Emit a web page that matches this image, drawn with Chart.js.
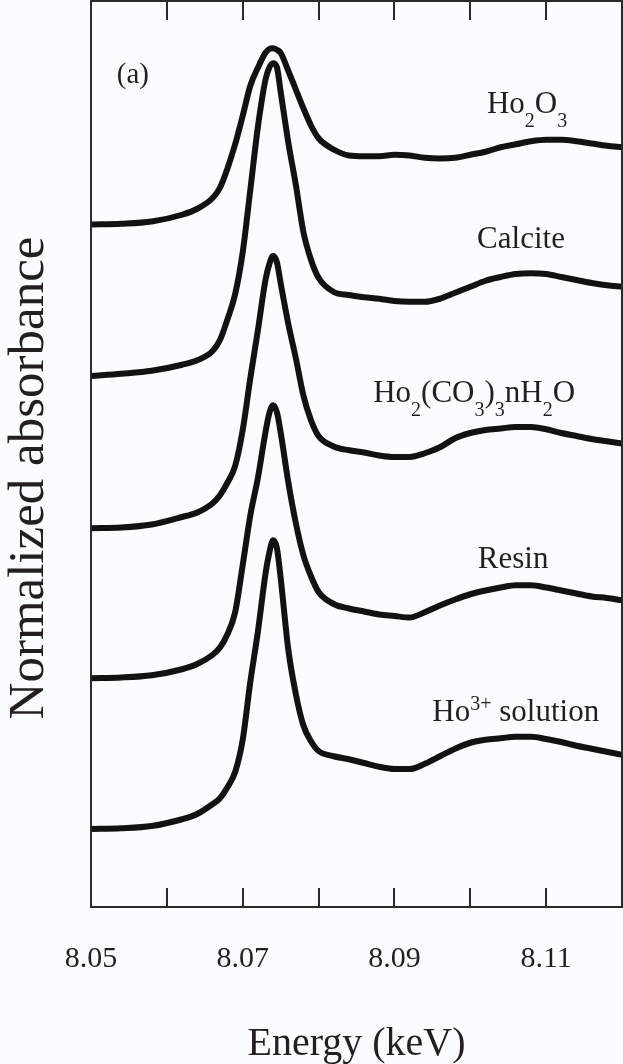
<!DOCTYPE html>
<html>
<head>
<meta charset="utf-8">
<title>Ho L3-edge XANES</title>
<script src="https://cdn.jsdelivr.net/npm/chart.js@4.4.1/dist/chart.umd.min.js"></script>
<style>
  html, body { margin: 0; padding: 0; background: #fbfcfe; }
  #wrap { width: 623px; height: 1064px; }
</style>
</head>
<body>
<div id="wrap"><canvas id="xanes" width="623" height="1064"></canvas></div>
<script>
// Photon energy (keV) of the sampled points
const energy = [8.050, 8.054, 8.058, 8.062, 8.064, 8.066, 8.067, 8.068, 8.069, 8.070,
                8.071, 8.072, 8.073, 8.0735, 8.074, 8.0745, 8.075, 8.076, 8.077, 8.078,
                8.079, 8.080, 8.082, 8.084, 8.086, 8.088, 8.090, 8.092, 8.094, 8.096,
                8.098, 8.100, 8.102, 8.104, 8.106, 8.108, 8.110, 8.112, 8.114, 8.116,
                8.118, 8.120];

// Normalized absorbance of each sample (edge step = 1)
const ho2o3 = [0.00, 0.01, 0.04, 0.13, 0.21, 0.35, 0.49, 0.75, 1.07, 1.45,
               1.85, 2.09, 2.29, 2.34, 2.35, 2.33, 2.29, 2.05, 1.80, 1.55,
               1.32, 1.15, 1.00, 0.92, 0.91, 0.91, 0.93, 0.92, 0.89, 0.88,
               0.89, 0.93, 0.97, 1.03, 1.07, 1.11, 1.13, 1.13, 1.11, 1.08,
               1.05, 1.03];
const calcite = [0.00, 0.03, 0.07, 0.15, 0.21, 0.33, 0.48, 0.76, 1.09, 1.65,
                 2.48, 3.32, 3.95, 4.11, 4.17, 4.12, 3.79, 3.12, 2.55, 1.92,
                 1.55, 1.31, 1.12, 1.08, 1.05, 1.03, 1.00, 0.99, 0.99, 1.03,
                 1.11, 1.19, 1.27, 1.32, 1.36, 1.37, 1.36, 1.32, 1.28, 1.24,
                 1.21, 1.19];
const carbonate = [0.00, 0.01, 0.05, 0.15, 0.21, 0.33, 0.44, 0.61, 0.83, 1.31,
                   2.00, 2.64, 3.31, 3.52, 3.63, 3.55, 3.27, 2.73, 2.27, 1.77,
                   1.44, 1.23, 1.09, 1.04, 1.01, 0.97, 0.95, 0.95, 1.00, 1.08,
                   1.20, 1.27, 1.31, 1.33, 1.35, 1.35, 1.32, 1.27, 1.23, 1.19,
                   1.16, 1.13];
const resin = [0.00, 0.01, 0.04, 0.12, 0.19, 0.31, 0.41, 0.59, 0.88, 1.51,
               2.17, 2.67, 3.28, 3.53, 3.64, 3.55, 3.28, 2.62, 2.07, 1.64,
               1.36, 1.15, 0.99, 0.93, 0.89, 0.85, 0.83, 0.81, 0.88, 0.97,
               1.05, 1.12, 1.17, 1.21, 1.24, 1.24, 1.21, 1.17, 1.13, 1.09,
               1.07, 1.04];
const solution = [0.00, 0.01, 0.04, 0.13, 0.20, 0.33, 0.41, 0.56, 0.76, 1.19,
                  1.96, 2.63, 3.40, 3.68, 3.85, 3.75, 3.35, 2.40, 1.80, 1.38,
                  1.17, 1.04, 0.97, 0.93, 0.88, 0.83, 0.80, 0.80, 0.87, 0.97,
                  1.07, 1.15, 1.19, 1.21, 1.23, 1.23, 1.20, 1.16, 1.11, 1.07,
                  1.03, 0.99];

// Vertical offsets used to stack the spectra
const offsets = [9.10, 7.08, 5.05, 3.05, 1.04];
const spectra = [ho2o3, calcite, carbonate, resin, solution];

// Tick marks every 10 eV, labels every 20 eV
const tickValues = [8.06, 8.07, 8.08, 8.09, 8.10, 8.11];
const tickLabels = ['8.05', '8.07', '8.09', '8.11'];

// Sample names: text runs (plain / sub / sup) with their anchor in data units
const sampleLabels = [
  { runs: [['Ho'], ['2', 'sub'], ['O'], ['3', 'sub']], e: 8.1022, v: 10.59 },
  { runs: [['Calcite']], e: 8.1009, v: 8.79 },
  { runs: [['Ho'], ['2', 'sub'], ['(CO'], ['3', 'sub'], [')'], ['3', 'sub'], ['nH'], ['2', 'sub'], ['O']], e: 8.0872, v: 6.73 },
  { runs: [['Resin']], e: 8.1010, v: 4.52 },
  { runs: [['Ho'], ['3+', 'sup'], [' solution']], e: 8.0950, v: 2.48 }
];

const SERIF = '"Liberation Serif", "Times New Roman", serif';
const INK = '#231f20';

function drawRuns(ctx, runs, x, y) {
  let cx = x;
  runs.forEach(([t, kind]) => {
    const size = kind ? 20 : 31;
    ctx.font = size + 'px ' + SERIF;
    const dy = kind === 'sub' ? 14 : kind === 'sup' ? -11 : 0;
    ctx.fillText(t, cx, y + dy);
    cx += ctx.measureText(t).width;
  });
}

const frameAndText = {
  id: 'frameAndText',
  afterDatasetsDraw(chart) {
    const { ctx, chartArea: a, scales: { x, y } } = chart;
    ctx.save();
    // plot frame
    ctx.strokeStyle = '#2a2a2a';
    ctx.lineWidth = 2;
    ctx.strokeRect(a.left, a.top, a.right - a.left, a.bottom - a.top);
    // inward tick marks on bottom and top edges
    ctx.beginPath();
    tickValues.forEach(v => {
      const px = Math.round(x.getPixelForValue(v));
      ctx.moveTo(px, a.bottom); ctx.lineTo(px, a.bottom - 19);
      ctx.moveTo(px, a.top); ctx.lineTo(px, a.top + 19);
    });
    ctx.stroke();

    ctx.fillStyle = INK;
    ctx.textBaseline = 'alphabetic';
    ctx.textAlign = 'left';
    // panel tag
    ctx.font = '29px ' + SERIF;
    ctx.fillText('(a)', x.getPixelForValue(8.0534), y.getPixelForValue(10.99));
    // sample names
    sampleLabels.forEach(l => drawRuns(ctx, l.runs, x.getPixelForValue(l.e), y.getPixelForValue(l.v)));

    // axis titles
    ctx.textAlign = 'center';
    ctx.font = '40px ' + SERIF;
    ctx.fillText('Energy (keV)', (a.left + a.right) / 2, 1055);
    ctx.save();
    ctx.translate(43, 478);
    ctx.rotate(-Math.PI / 2);
    ctx.font = '51px ' + SERIF;
    ctx.fillText('Normalized absorbance', 0, 0);
    ctx.restore();
    ctx.restore();
  }
};

new Chart(document.getElementById('xanes'), {
  type: 'line',
  data: {
    datasets: spectra.map((s, k) => ({
      data: energy.map((e, i) => ({ x: e, y: s[i] + offsets[k] })),
      borderColor: '#121212',
      borderWidth: 6,
      pointRadius: 0,
      fill: false,
      cubicInterpolationMode: 'monotone',
      borderCapStyle: 'round',
      borderJoinStyle: 'round'
    }))
  },
  options: {
    responsive: false,
    devicePixelRatio: 1,
    animation: false,
    events: [],
    layout: { padding: { top: 1, right: 1, left: 0, bottom: 0 } },
    plugins: { legend: { display: false }, tooltip: { enabled: false } },
    scales: {
      x: {
        type: 'linear',
        min: 8.05,
        max: 8.12,
        grid: { display: false },
        border: { display: false },
        ticks: {
          stepSize: 0.01,
          autoSkip: false,
          maxRotation: 0,
          padding: 26,
          color: INK,
          font: { family: SERIF, size: 30 },
          callback: v => {
            const s = Number(v).toFixed(2);
            return tickLabels.includes(s) ? s : '';
          }
        },
        afterFit: s => { s.height = 157; s.paddingLeft = 0; s.paddingRight = 0; }
      },
      y: {
        min: 0,
        max: 12.08,
        grid: { display: false },
        border: { display: false },
        ticks: { display: false },
        afterFit: s => { s.width = 91; }
      }
    }
  },
  plugins: [frameAndText]
});
</script>
</body>
</html>
